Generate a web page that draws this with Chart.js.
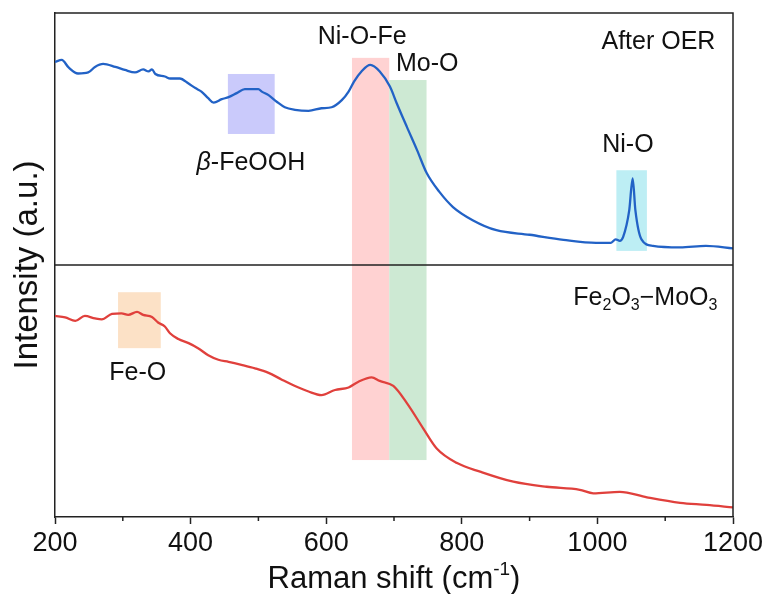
<!DOCTYPE html>
<html>
<head>
<meta charset="utf-8">
<script src="https://cdn.jsdelivr.net/npm/chart.js@4/dist/chart.umd.min.js"></script>
<style>
  html, body { margin: 0; padding: 0; background: #fff; }
  #wrap { width: 767px; height: 594px; }
</style>
</head>
<body>
<div id="wrap"><canvas id="my-chart"></canvas></div>
<script>
// Raman shift (cm-1) and intensity (upper spectrum: after OER)
const afterOerShift = [200, 210, 220, 234, 249, 259, 271, 289, 303, 318, 330, 338, 343, 348, 362, 370, 384, 397, 407, 416, 426, 434, 446, 456, 468, 480, 500, 505, 515, 527, 539, 554, 574, 593, 608, 623, 633, 641, 652, 665, 679, 694, 704, 719, 734, 748, 767, 787, 816, 851, 900, 950, 998, 1020, 1027, 1033, 1038, 1047, 1052, 1056, 1065, 1082, 1122, 1160, 1200];
const afterOerIntensity = [90.3, 90.7, 89.2, 88.0, 88.2, 89.3, 89.9, 89.3, 88.7, 88.2, 88.8, 88.4, 88.8, 87.9, 87.4, 87.0, 87.0, 86.0, 85.1, 84.4, 83.1, 82.2, 82.9, 83.3, 84.1, 84.9, 84.9, 84.4, 83.7, 82.4, 81.3, 80.8, 80.6, 81.1, 81.3, 82.7, 84.4, 86.4, 88.4, 89.7, 88.4, 85.4, 82.1, 77.4, 72.8, 68.3, 64.5, 61.5, 58.9, 56.9, 56.0, 55.0, 54.4, 54.4, 55.1, 54.8, 55.6, 60.9, 67.2, 60.9, 55.1, 53.8, 53.5, 53.8, 53.3];

// lower spectrum: Fe2O3-MoO3
const fe2o3Shift = [200, 215, 230, 244, 259, 269, 284, 298, 308, 321, 330, 343, 352, 362, 370, 382, 397, 411, 426, 441, 456, 475, 495, 515, 534, 554, 574, 593, 613, 633, 647, 667, 679, 699, 719, 743, 763, 793, 827, 876, 925, 974, 994, 1033, 1073, 1122, 1161, 1200];
const fe2o3Intensity = [39.9, 39.6, 38.9, 39.9, 39.4, 39.2, 40.3, 40.4, 40.1, 40.7, 40.1, 39.7, 38.6, 37.8, 36.4, 35.3, 34.5, 33.5, 32.1, 31.2, 30.8, 30.2, 29.5, 28.6, 27.3, 26.0, 24.9, 24.2, 25.2, 25.7, 26.8, 27.7, 27.0, 26.0, 22.6, 17.6, 13.6, 10.7, 9.0, 7.0, 6.0, 5.4, 4.7, 5.0, 3.9, 2.8, 2.4, 1.9];

// highlighted bands: shift range and intensity range
const bandNames = ["beta-FeOOH", "Ni-O-Fe", "Mo-O", "Ni-O", "Fe-O"];
const bandStart = [455, 638, 693, 1028, 293];
const bandEnd = [524, 693, 748, 1073, 356];
const bandLow = [76.0, 11.3, 11.3, 52.8, 33.5];
const bandHigh = [87.9, 91.1, 86.7, 68.8, 44.6];
const bandColors = ["#cacafb", "#ffd2d2", "#cde9d3", "#bdeef4", "#fce1c6"];

const xTicks = [200, 400, 600, 800, 1000, 1200];
const xMinorTicks = [300, 500, 700, 900, 1100];
const divider = 50;

const FONT = "'Liberation Sans', Arial, sans-serif";
const LABEL = "25px " + FONT;

function toPoints(xs, ys) {
  return xs.map((x, i) => ({ x: x, y: ys[i] }));
}

const decorPlugin = {
  id: "decor",
  beforeDatasetsDraw(chart) {
    const { ctx, scales: { x, y } } = chart;
    ctx.save();
    bandNames.forEach((name, i) => {
      const x0 = x.getPixelForValue(bandStart[i]);
      const x1 = x.getPixelForValue(bandEnd[i]);
      const y0 = y.getPixelForValue(bandHigh[i]);
      const y1 = y.getPixelForValue(bandLow[i]);
      ctx.fillStyle = bandColors[i];
      ctx.fillRect(x0, y0, x1 - x0, y1 - y0);
    });
    ctx.restore();
  },
  afterDraw(chart) {
    const { ctx, chartArea: a, scales: { x, y } } = chart;
    ctx.save();
    ctx.strokeStyle = "#222";
    ctx.lineWidth = 1.5;
    // frame top/right + divider
    ctx.beginPath();
    ctx.moveTo(a.left, a.top);
    ctx.lineTo(a.right, a.top);
    ctx.lineTo(a.right, a.bottom);
    const yd = y.getPixelForValue(divider);
    ctx.moveTo(a.left, yd);
    ctx.lineTo(a.right, yd);
    // minor ticks
    xMinorTicks.forEach((v) => {
      const px = x.getPixelForValue(v);
      ctx.moveTo(px, a.bottom);
      ctx.lineTo(px, a.bottom + 4);
    });
    ctx.stroke();

    // annotations
    ctx.fillStyle = "#111";
    ctx.font = LABEL;
    ctx.textBaseline = "middle";
    ctx.textAlign = "center";
    const put = (t, vx, vy) => ctx.fillText(t, x.getPixelForValue(vx), y.getPixelForValue(vy));
    put("Ni-O-Fe", 653, 95.2);
    put("Mo-O", 749, 89.9);
    put("Ni-O", 1045, 73.8);
    put("Fe-O", 322, 28.6);

    // beta-FeOOH with italic beta
    const bx = x.getPixelForValue(489), by = y.getPixelForValue(70.2);
    ctx.textAlign = "left";
    ctx.font = "italic " + LABEL;
    const wb = ctx.measureText("\u03b2").width;
    ctx.font = LABEL;
    const wr = ctx.measureText("-FeOOH").width;
    const sx = bx - (wb + wr) / 2;
    ctx.font = "italic " + LABEL;
    ctx.fillText("\u03b2", sx, by);
    ctx.font = LABEL;
    ctx.fillText("-FeOOH", sx + wb, by);

    // right-aligned sample names
    ctx.textAlign = "right";
    ctx.fillText("After OER", x.getPixelForValue(1174), y.getPixelForValue(94.2));

    // Fe2O3-MoO3 with subscripts
    const parts = [["Fe", 0], ["2", 1], ["O", 0], ["3", 1], ["\u2212MoO", 0], ["3", 1]];
    ctx.textAlign = "left";
    ctx.textBaseline = "alphabetic";
    let total = 0;
    parts.forEach(([t, sub]) => {
      ctx.font = sub ? "16px " + FONT : LABEL;
      total += ctx.measureText(t).width;
    });
    let fx = x.getPixelForValue(1177) - total;
    const fy = y.getPixelForValue(43.8) + 9;
    parts.forEach(([t, sub]) => {
      ctx.font = sub ? "16px " + FONT : LABEL;
      ctx.fillText(t, fx, fy + (sub ? 5 : 0));
      fx += ctx.measureText(t).width;
    });

    // axis titles
    const big = "31px " + FONT, small = "19px " + FONT;
    ctx.font = big;
    const t1 = "Raman shift (cm", t2 = "-1", t3 = ")";
    const w1 = ctx.measureText(t1).width, w3 = ctx.measureText(t3).width;
    ctx.font = small;
    const w2 = ctx.measureText(t2).width;
    const tx = (a.left + a.right) / 2 - (w1 + w2 + w3) / 2;
    const ty = 588;
    ctx.font = big;
    ctx.fillText(t1, tx, ty);
    ctx.font = small;
    ctx.fillText(t2, tx + w1, ty - 13);
    ctx.font = big;
    ctx.fillText(t3, tx + w1 + w2, ty);

    ctx.translate(28, 265);
    ctx.rotate(-Math.PI / 2);
    ctx.font = "33px " + FONT;
    ctx.textAlign = "center";
    ctx.textBaseline = "middle";
    ctx.fillText("Intensity (a.u.)", 0, 0);
    ctx.restore();
  }
};

const ctx = document.getElementById("my-chart").getContext("2d");
const chart = new Chart(ctx, {
  type: "line",
  data: {
    datasets: [
      {
        label: "After OER",
        data: toPoints(afterOerShift, afterOerIntensity),
        borderColor: "#2262c6",
        borderWidth: 2.3,
        pointRadius: 0,
        cubicInterpolationMode: "monotone",
      },
      {
        label: "Fe2O3-MoO3",
        data: toPoints(fe2o3Shift, fe2o3Intensity),
        borderColor: "#e0403c",
        borderWidth: 2.3,
        pointRadius: 0,
        cubicInterpolationMode: "monotone",
      },
    ],
  },
  options: {
    responsive: true,
    maintainAspectRatio: false,
    animation: false,
    layout: { padding: { top: 13, right: 34, left: 0, bottom: 0 } },
    plugins: {
      legend: { display: false },
      tooltip: { enabled: false },
    },
    scales: {
      x: {
        type: "linear",
        min: 200,
        max: 1200,
        afterBuildTicks: (scale) => { scale.ticks = xTicks.map((v) => ({ value: v })); },
        afterFit: (scale) => { scale.height = 77; },
        ticks: {
          color: "#111",
          font: { family: FONT, size: 27 },
          padding: 3,
          maxRotation: 0,
          callback: (value) => String(value),
        },
        grid: { drawOnChartArea: false, drawTicks: true, tickLength: 7, tickColor: "#222", tickWidth: 1.5 },
        border: { display: true, color: "#222", width: 1.5 },
      },
      y: {
        min: 0,
        max: 100,
        afterFit: (scale) => { scale.width = 55; },
        ticks: { display: false },
        grid: { display: false },
        border: { display: true, color: "#222", width: 1.5 },
      },
    },
  },
  plugins: [decorPlugin],
});
</script>
</body>
</html>
